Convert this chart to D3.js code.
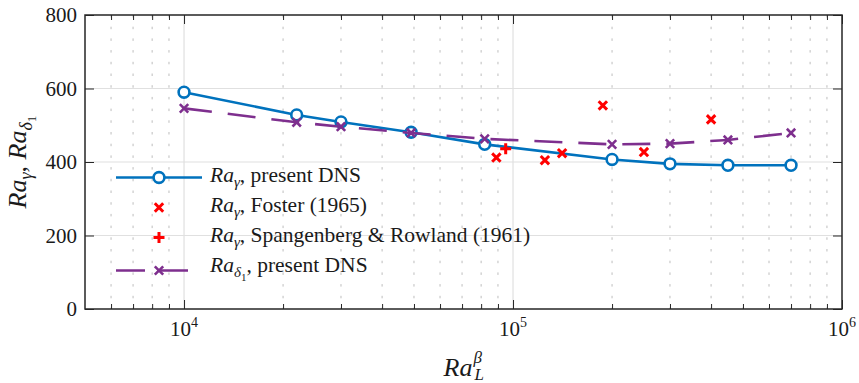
<!DOCTYPE html>
<html>
<head>
<meta charset="utf-8">
<script src="https://cdn.jsdelivr.net/npm/d3@7"></script>
<style>
  body { margin: 0; background: #fff; }
  text { font-family: "Liberation Serif", "Times New Roman", serif; fill: #1a1a1a; }
</style>
</head>
<body>
<div id="chart"></div>
<script>
// data
var dnsRa = [1e4, 2.2e4, 3e4, 4.9e4, 8.2e4, 2e5, 3e5, 4.5e5, 7e5];
var dnsRaGamma = [590, 528, 509, 481, 448, 407, 395, 391, 391];
var dnsRaDelta1 = [546, 508, 496, 479, 463, 448, 450, 460, 479];

var fosterRa = [8.9e4, 1.25e5, 1.41e5, 1.875e5, 2.5e5, 4e5];
var fosterRaGamma = [412, 405, 424, 554, 427, 516];

var spangRa = [9.5e4];
var spangRaGamma = [436];

var xMajorTicks = [1e4, 1e5, 1e6];
var xTickExponents = ["4", "5", "6"];
var yTicks = [0, 200, 400, 600, 800];

var svgWidth = 859;
var svgHeight = 383;

var margin = { top: 15, right: 17, bottom: 74, left: 85 };
var width = svgWidth - margin.left - margin.right;
var height = svgHeight - margin.top - margin.bottom;

var blue = "#0072BD";
var purple = "#7E2F8E";
var red = "#FF0000";
var axisColor = "#262626";

var svg = d3.select("#chart")
  .append("svg")
  .attr("width", svgWidth)
  .attr("height", svgHeight);

var chartGroup = svg.append("g")
  .attr("transform", `translate(${margin.left}, ${margin.top})`);

var xScale = d3.scaleLog()
  .domain([5000, 1e6])
  .range([0, width]);

var yScale = d3.scaleLinear()
  .domain([0, 800])
  .range([height, 0]);

// minor ticks = every log tick that is not a power of ten
var xMinorTicks = xScale.ticks().filter(function(v) {
  var e = Math.log10(v);
  return Math.abs(e - Math.round(e)) > 1e-6 && v > 5000;
});

// grid
chartGroup.append("g")
  .selectAll("line")
  .data(xMinorTicks)
  .enter()
  .append("line")
  .attr("x1", d => xScale(d))
  .attr("x2", d => xScale(d))
  .attr("y1", 0)
  .attr("y2", height)
  .attr("stroke", "#bdbdbd")
  .attr("stroke-width", 1)
  .attr("stroke-dasharray", "2.5,9.2");

chartGroup.append("g")
  .selectAll("line")
  .data(xMajorTicks.slice(0, 2))
  .enter()
  .append("line")
  .attr("x1", d => xScale(d))
  .attr("x2", d => xScale(d))
  .attr("y1", 0)
  .attr("y2", height)
  .attr("stroke", "#e0e0e0")
  .attr("stroke-width", 1.2);

chartGroup.append("g")
  .selectAll("line")
  .data(yTicks.slice(1, 4))
  .enter()
  .append("line")
  .attr("x1", 0)
  .attr("x2", width)
  .attr("y1", d => yScale(d))
  .attr("y2", d => yScale(d))
  .attr("stroke", "#e0e0e0")
  .attr("stroke-width", 1.2);

// marker helpers
function crossPath(s) {
  return `M${-s},${-s}L${s},${s}M${-s},${s}L${s},${-s}`;
}
function plusPath(s) {
  return `M${-s},0L${s},0M0,${-s}L0,${s}`;
}

var dnsData = dnsRa.map((r, i) => ({ ra: r, g: dnsRaGamma[i], d: dnsRaDelta1[i] }));
var fosterData = fosterRa.map((r, i) => ({ ra: r, g: fosterRaGamma[i] }));
var spangData = spangRa.map((r, i) => ({ ra: r, g: spangRaGamma[i] }));

// Ra_gamma present DNS
var gammaLine = d3.line()
  .x(d => xScale(d.ra))
  .y(d => yScale(d.g));

chartGroup.append("path")
  .datum(dnsData)
  .attr("d", gammaLine)
  .attr("fill", "none")
  .attr("stroke", blue)
  .attr("stroke-width", 2.6);

chartGroup.selectAll(".gammaCircle")
  .data(dnsData)
  .enter()
  .append("circle")
  .classed("gammaCircle", true)
  .attr("cx", d => xScale(d.ra))
  .attr("cy", d => yScale(d.g))
  .attr("r", 5.4)
  .attr("fill", "#fff")
  .attr("stroke", blue)
  .attr("stroke-width", 2.6);

// Foster (1965)
chartGroup.selectAll(".foster")
  .data(fosterData)
  .enter()
  .append("path")
  .classed("foster", true)
  .attr("transform", d => `translate(${xScale(d.ra)}, ${yScale(d.g)})`)
  .attr("d", crossPath(4.2))
  .attr("stroke", red)
  .attr("stroke-width", 3);

// Spangenberg & Rowland (1961)
chartGroup.selectAll(".spang")
  .data(spangData)
  .enter()
  .append("path")
  .classed("spang", true)
  .attr("transform", d => `translate(${xScale(d.ra)}, ${yScale(d.g)})`)
  .attr("d", plusPath(5.5))
  .attr("stroke", red)
  .attr("stroke-width", 3);

// Ra_delta1 present DNS
var deltaLine = d3.line()
  .x(d => xScale(d.ra))
  .y(d => yScale(d.d));

chartGroup.append("path")
  .datum(dnsData)
  .attr("d", deltaLine)
  .attr("fill", "none")
  .attr("stroke", purple)
  .attr("stroke-width", 2.6)
  .attr("stroke-dasharray", "28,16");

chartGroup.selectAll(".deltaCross")
  .data(dnsData)
  .enter()
  .append("path")
  .classed("deltaCross", true)
  .attr("transform", d => `translate(${xScale(d.ra)}, ${yScale(d.d)})`)
  .attr("d", crossPath(4.2))
  .attr("stroke", purple)
  .attr("stroke-width", 2.6);

// axes: ticks point inward on all four sides
function styleAxis(g) {
  g.select(".domain").remove();
  g.selectAll("line").attr("stroke", axisColor).attr("stroke-width", 1);
}

chartGroup.append("g")
  .attr("transform", `translate(0, ${height})`)
  .call(d3.axisBottom(xScale).tickValues(xMajorTicks).tickSize(-9).tickFormat(""))
  .call(styleAxis);
chartGroup.append("g")
  .attr("transform", `translate(0, ${height})`)
  .call(d3.axisBottom(xScale).tickValues(xMinorTicks).tickSize(-5).tickFormat(""))
  .call(styleAxis);
chartGroup.append("g")
  .call(d3.axisTop(xScale).tickValues(xMajorTicks).tickSize(-9).tickFormat(""))
  .call(styleAxis);
chartGroup.append("g")
  .call(d3.axisTop(xScale).tickValues(xMinorTicks).tickSize(-5).tickFormat(""))
  .call(styleAxis);
chartGroup.append("g")
  .call(d3.axisLeft(yScale).tickValues(yTicks).tickSize(-9).tickFormat(""))
  .call(styleAxis);
chartGroup.append("g")
  .attr("transform", `translate(${width}, 0)`)
  .call(d3.axisRight(yScale).tickValues(yTicks).tickSize(-9).tickFormat(""))
  .call(styleAxis);

chartGroup.append("rect")
  .attr("x", 0)
  .attr("y", 0)
  .attr("width", width)
  .attr("height", height)
  .attr("fill", "none")
  .attr("stroke", axisColor)
  .attr("stroke-width", 1.5);

// tick labels
chartGroup.selectAll(".yLabel")
  .data(yTicks)
  .enter()
  .append("text")
  .classed("yLabel", true)
  .attr("x", -8)
  .attr("y", d => yScale(d) + 7)
  .attr("text-anchor", "end")
  .attr("font-size", 21)
  .text(d => d);

var xLabels = chartGroup.selectAll(".xLabel")
  .data(xMajorTicks)
  .enter()
  .append("text")
  .classed("xLabel", true)
  .attr("x", d => xScale(d))
  .attr("y", height + 27)
  .attr("text-anchor", "middle")
  .attr("font-size", 21);
xLabels.append("tspan").text("10");
xLabels.append("tspan")
  .attr("dy", -9)
  .attr("font-size", 14)
  .text((d, i) => xTickExponents[i]);

// x axis title: Ra_L^beta
var xTitleX = width / 2 + 9;
chartGroup.append("text")
  .attr("x", xTitleX)
  .attr("y", height + 67)
  .attr("text-anchor", "end")
  .attr("font-size", 26)
  .attr("font-style", "italic")
  .text("Ra");
chartGroup.append("text")
  .attr("x", xTitleX + 1)
  .attr("y", height + 54)
  .attr("font-size", 17)
  .attr("font-style", "italic")
  .text("β");
chartGroup.append("text")
  .attr("x", xTitleX + 2)
  .attr("y", height + 71)
  .attr("font-size", 17)
  .attr("font-style", "italic")
  .text("L");

// y axis title: Ra_gamma, Ra_delta1
var yTitle = svg.append("text")
  .attr("transform", "rotate(-90)")
  .attr("x", -(margin.top + height / 2))
  .attr("y", 26)
  .attr("text-anchor", "middle")
  .attr("font-size", 26);
yTitle.append("tspan").attr("font-style", "italic").text("Ra");
yTitle.append("tspan").attr("font-style", "italic").attr("font-size", 18).attr("dy", 6).text("γ");
yTitle.append("tspan").attr("dy", -6).text(", ");
yTitle.append("tspan").attr("font-style", "italic").text("Ra");
yTitle.append("tspan").attr("font-style", "italic").attr("font-size", 18).attr("dy", 6).text("δ");
yTitle.append("tspan").attr("font-size", 13).attr("dy", 4).text("1");

// legend (transparent, grid shows through)
var legendItems = [
  { sub: "γ", subsub: "", rest: ", present DNS" },
  { sub: "γ", subsub: "", rest: ", Foster (1965)" },
  { sub: "γ", subsub: "", rest: ", Spangenberg & Rowland (1961)" },
  { sub: "δ", subsub: "1", rest: ", present DNS" }
];
var legendLineY = [177.5, 207.5, 237.5, 270.5];
var legendTextY = [182, 212, 242, 272];
var legendX0 = 116, legendX1 = 202, legendMarkX = 159, legendTextX = 210;

var legend = svg.append("g");

legend.append("line")
  .attr("x1", legendX0).attr("x2", legendX1)
  .attr("y1", legendLineY[0]).attr("y2", legendLineY[0])
  .attr("stroke", blue).attr("stroke-width", 2.6);
legend.append("circle")
  .attr("cx", legendMarkX).attr("cy", legendLineY[0]).attr("r", 5.4)
  .attr("fill", "#fff").attr("stroke", blue).attr("stroke-width", 2.6);
legend.append("path")
  .attr("transform", `translate(${legendMarkX}, ${legendLineY[1]})`)
  .attr("d", crossPath(4.2)).attr("stroke", red).attr("stroke-width", 3);
legend.append("path")
  .attr("transform", `translate(${legendMarkX}, ${legendLineY[2]})`)
  .attr("d", plusPath(5.5)).attr("stroke", red).attr("stroke-width", 3);
legend.append("line")
  .attr("x1", legendX0).attr("x2", legendX1)
  .attr("y1", legendLineY[3]).attr("y2", legendLineY[3])
  .attr("stroke", purple).attr("stroke-width", 2.6)
  .attr("stroke-dasharray", "29,14");
legend.append("path")
  .attr("transform", `translate(${legendMarkX}, ${legendLineY[3]})`)
  .attr("d", crossPath(4.2)).attr("stroke", purple).attr("stroke-width", 2.6);

legendItems.forEach(function(item, i) {
  var t = legend.append("text")
    .attr("x", legendTextX)
    .attr("y", legendTextY[i])
    .attr("font-size", 21.5);
  t.append("tspan").attr("font-style", "italic").text("Ra");
  t.append("tspan").attr("font-style", "italic").attr("font-size", 15).attr("dy", 5).text(item.sub);
  var back = -5;
  if (item.subsub) {
    t.append("tspan").attr("font-size", 11).attr("dy", 4).text(item.subsub);
    back = -9;
  }
  t.append("tspan").attr("dy", back).text(item.rest);
});
</script>
</body>
</html>
